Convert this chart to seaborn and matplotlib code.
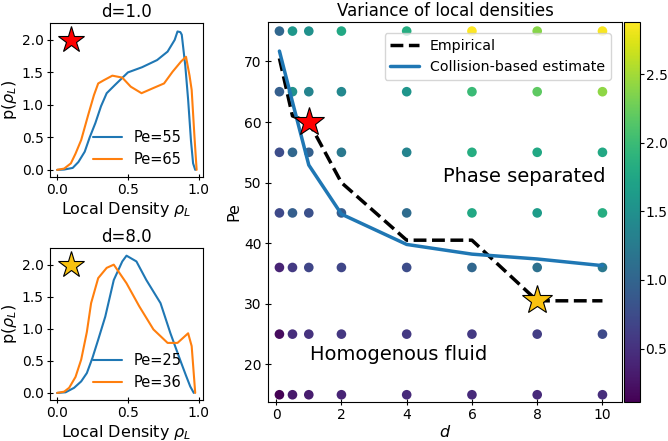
import numpy as np
import pandas as pd
import matplotlib
matplotlib.use("Agg")
import matplotlib.pyplot as plt
import seaborn as sns

sns.set_style("ticks")
plt.rcParams['font.family'] = ['DejaVu Sans']
plt.rcParams['xtick.direction'] = 'inout'
plt.rcParams['ytick.direction'] = 'inout'
for key in ['text.color', 'axes.labelcolor', 'xtick.color', 'ytick.color', 'axes.edgecolor']:
    plt.rcParams[key] = 'black'

# simulation grid
d_vals = [0.1, 0.5, 1, 2, 4, 6, 8, 10]
pe_vals = [15, 25, 36, 45, 55, 65, 75]
# variance of local densities, one row per Pe (bottom to top)
var_rows = [
    [0.11, 0.30, 0.33, 0.39, 0.44, 0.44, 0.44, 0.47],  # Pe=15
    [0.19, 0.47, 0.50, 0.55, 0.58, 0.58, 0.61, 0.72],  # Pe=25
    [0.39, 0.58, 0.69, 0.69, 0.75, 1.02, 1.13, 1.22],  # Pe=36
    [0.72, 0.94, 0.80, 0.90, 1.08, 1.77, 1.63, 1.83],  # Pe=45
    [0.75, 1.02, 0.95, 1.22, 1.36, 1.83, 1.77, 1.77],  # Pe=55
    [0.94, 1.50, 1.36, 1.40, 1.55, 1.99, 2.19, 2.41],  # Pe=65
    [1.02, 1.58, 1.50, 1.77, 1.83, 2.88, 2.38, 2.85],  # Pe=75
]

# phase boundaries
line_d = [0.1, 0.5, 1, 2, 4, 6, 8, 10]
emp_pe = [70.5, 61, 60, 50, 40.5, 40.5, 30.5, 30.5]
coll_pe = [71.7, 63.3, 52.9, 44.8, 39.8, 38.2, 37.4, 36.3]

# local density distributions, d=1.0
rho_55 = [0.0, 0.05, 0.11, 0.15, 0.195, 0.23, 0.27, 0.31, 0.35, 0.41, 0.5, 0.6, 0.706, 0.78, 0.83, 0.85, 0.87, 0.88, 0.905, 0.925, 0.945, 0.96, 0.975]
p_55 = [0.0, 0.005, 0.03, 0.12, 0.28, 0.5, 0.72, 0.98, 1.18, 1.31, 1.50, 1.58, 1.69, 1.82, 2.0, 2.13, 2.12, 2.08, 1.6, 1.08, 0.45, 0.1, 0.0]
rho_65 = [0.0, 0.05, 0.097, 0.13, 0.17, 0.22, 0.26, 0.29, 0.33, 0.39, 0.46, 0.52, 0.596, 0.68, 0.755, 0.815, 0.876, 0.91, 0.935, 0.95, 0.97, 0.985]
p_65 = [0.0, 0.02, 0.1, 0.25, 0.46, 0.85, 1.15, 1.33, 1.38, 1.45, 1.42, 1.28, 1.18, 1.26, 1.33, 1.51, 1.67, 1.74, 1.45, 1.23, 0.5, 0.0]
# local density distributions, d=8.0
rho_25 = [0.0, 0.06, 0.12, 0.17, 0.21, 0.25, 0.29, 0.34, 0.40, 0.46, 0.49, 0.56, 0.63, 0.73, 0.80, 0.876, 0.91, 0.94, 0.965]
p_25 = [0.0, 0.01, 0.08, 0.18, 0.31, 0.55, 0.83, 1.19, 1.76, 2.05, 2.14, 2.05, 1.76, 1.40, 0.93, 0.47, 0.27, 0.1, 0.0]
rho_36 = [0.0, 0.05, 0.085, 0.13, 0.17, 0.21, 0.24, 0.29, 0.35, 0.40, 0.49, 0.58, 0.68, 0.78, 0.85, 0.90, 0.925, 0.95, 0.975]
p_36 = [0.0, 0.02, 0.08, 0.25, 0.52, 0.95, 1.40, 1.79, 1.95, 2.0, 1.71, 1.35, 0.99, 0.78, 0.78, 0.88, 0.93, 0.73, 0.0]

grid = pd.DataFrame([(d, pe, v) for pe, row in zip(pe_vals, var_rows) for d, v in zip(d_vals, row)],
                    columns=['d', 'Pe', 'var'])

fig = plt.figure(figsize=(6.68, 4.41), dpi=100)
ax1 = fig.add_axes([0.0749, 0.5986, 0.229, 0.3492])
ax2 = fig.add_axes([0.0749, 0.093, 0.229, 0.3447])
ax = fig.add_axes([0.4012, 0.0884, 0.53, 0.8617])
cax = fig.add_axes([0.9341, 0.0884, 0.024, 0.8617])


def density_panel(a, title, r1, p1, l1, r2, p2, l2, star_color):
    sns.lineplot(x=r1, y=p1, ax=a, color='#1f77b4', lw=1.5, label=l1, sort=False)
    sns.lineplot(x=r2, y=p2, ax=a, color='#ff7f0e', lw=1.5, label=l2, sort=False)
    a.plot([0.1], [2.0], marker='*', ms=20, color=star_color, mec='black', mew=0.8)
    a.set_title(title, fontsize=12, pad=4)
    a.set_xlabel(r'Local Density $\rho_L$', fontsize=11.5, labelpad=2)
    a.set_ylabel(r'p($\rho_L$)', fontsize=11.5, labelpad=2)
    a.set_xticks([0.0, 0.5, 1.0])
    a.set_yticks([0.0, 0.5, 1.0, 1.5, 2.0])
    a.tick_params(labelsize=10, pad=2, length=5)
    a.legend(loc='lower center', bbox_to_anchor=(0.57, -0.02), frameon=False, fontsize=10.5)
    a.set_xlim(-0.05, 1.03)
    a.set_ylim(-0.11, 2.26)


density_panel(ax1, 'd=1.0', rho_55, p_55, 'Pe=55', rho_65, p_65, 'Pe=65', 'red')
density_panel(ax2, 'd=8.0', rho_25, p_25, 'Pe=25', rho_36, p_36, 'Pe=36', '#f9c20f')

# main phase diagram
vmin, vmax = grid['var'].min(), grid['var'].max()
norm = plt.Normalize(vmin, vmax)
sns.scatterplot(data=grid, x='d', y='Pe', hue='var', palette='viridis', hue_norm=norm,
                s=48, linewidth=0, legend=False, ax=ax, zorder=2)
sns.lineplot(x=line_d, y=emp_pe, ax=ax, color='black', lw=2.5, linestyle='--', label='Empirical', zorder=3)
sns.lineplot(x=line_d, y=coll_pe, ax=ax, color='#1f77b4', lw=2.5, label='Collision-based estimate', zorder=3)
ax.plot([1], [60], marker='*', ms=22, color='red', mec='black', mew=0.8, zorder=4)
ax.plot([8], [30.6], marker='*', ms=22, color='#f9c20f', mec='black', mew=0.8, zorder=4)
ax.text(7.6, 51, 'Phase separated', fontsize=14, ha='center', va='center')
ax.text(1.05, 21.6, 'Homogenous fluid', fontsize=14, ha='left', va='center')
ax.set_title('Variance of local densities', fontsize=12, pad=4)
ax.set_xlabel('$d$', fontsize=11.5, labelpad=1)
ax.set_ylabel('Pe', fontsize=11.5, labelpad=2)
ax.set_xticks([0, 2, 4, 6, 8, 10])
ax.set_yticks([20, 30, 40, 50, 60, 70])
ax.set_xlim(-0.25, 10.6)
ax.set_ylim(13.8, 76.5)
ax.tick_params(labelsize=10, pad=2, length=5)
ax.legend(loc='upper right', fontsize=10.2, borderaxespad=0.8)

sm = plt.cm.ScalarMappable(cmap='viridis', norm=norm)
cb = fig.colorbar(sm, cax=cax, ticks=[0.5, 1.0, 1.5, 2.0, 2.5])
cb.ax.tick_params(direction='out', labelsize=10, pad=1, length=3)

fig.savefig('out.png', dpi=100)
